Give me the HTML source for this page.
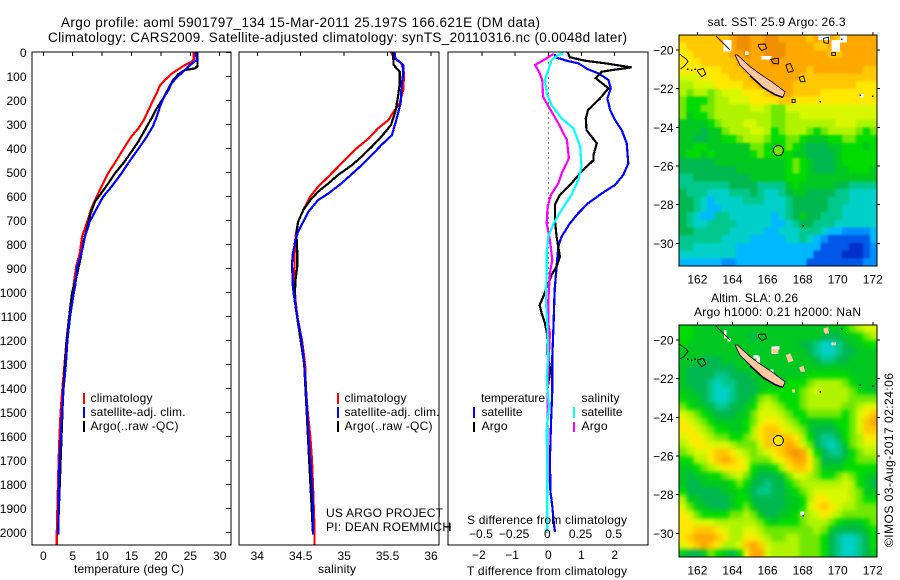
<!DOCTYPE html>
<html lang="en">
<head>
<meta charset="utf-8">
<title>Argo profile</title>
<style>
html,body{margin:0;padding:0;background:#fff;width:900px;height:580px;overflow:hidden}
svg{display:block}
text{font-family:"Liberation Sans",sans-serif;font-size:12px;fill:#000}
.t14{font-size:13.5px}
</style>
</head>
<body>
<svg id="chart" xmlns="http://www.w3.org/2000/svg" width="900" height="580" viewBox="0 0 900 580">
<defs>
<filter id="soft-sst" filterUnits="userSpaceOnUse" x="660" y="15" width="240" height="270" color-interpolation-filters="sRGB"><feGaussianBlur stdDeviation="1.1"/></filter>
<filter id="soft-sla" filterUnits="userSpaceOnUse" x="660" y="305" width="240" height="270" color-interpolation-filters="sRGB"><feGaussianBlur stdDeviation="2.2"/></filter>
<clipPath id="clip-sst"><rect x="679" y="35" width="198" height="231"/></clipPath>
<clipPath id="clip-sla"><rect x="679" y="325" width="198" height="232"/></clipPath>
</defs>
<rect x="0" y="0" width="900" height="580" fill="#fff"/>
<text class="t14" x="61" y="27" textLength="479" lengthAdjust="spacing">Argo profile: aoml 5901797_134 15-Mar-2011 25.197S 166.621E (DM data)</text>
<text class="t14" x="48" y="42" textLength="579" lengthAdjust="spacing">Climatology: CARS2009. Satellite-adjusted climatology: synTS_20110316.nc (0.0048d later)</text>
<g id="plots"></g>
<g id="maps"></g>
<g id="labels">
<text x="74" y="573" textLength="110" lengthAdjust="spacing">temperature (deg C)</text>
<text x="318" y="573" textLength="38" lengthAdjust="spacing">salinity</text>
<text x="467" y="575" textLength="160" lengthAdjust="spacing">T difference from climatology</text>
<text x="467" y="524" textLength="160" lengthAdjust="spacing">S difference from climatology</text>
<text x="326" y="517" textLength="117" lengthAdjust="spacing">US ARGO PROJECT</text>
<text x="326" y="531" textLength="125" lengthAdjust="spacing">PI: DEAN ROEMMICH</text>

<rect x="83" y="393" width="2" height="11" fill="#f00"/>
<rect x="83" y="407" width="2" height="11" fill="#00f"/>
<rect x="83" y="421" width="2" height="11" fill="#000"/>
<text x="90.5" y="402" textLength="62" lengthAdjust="spacing">climatology</text>
<text x="90.5" y="416" textLength="95" lengthAdjust="spacing">satellite-adj. clim.</text>
<text x="90.5" y="430" textLength="88" lengthAdjust="spacing">Argo(..raw -QC)</text>

<rect x="337" y="393" width="2" height="11" fill="#f00"/>
<rect x="337" y="407" width="2" height="11" fill="#00f"/>
<rect x="337" y="421" width="2" height="11" fill="#000"/>
<text x="344.5" y="402" textLength="62" lengthAdjust="spacing">climatology</text>
<text x="344.5" y="416" textLength="95" lengthAdjust="spacing">satellite-adj. clim.</text>
<text x="344.5" y="430" textLength="88" lengthAdjust="spacing">Argo(..raw -QC)</text>

<text x="481" y="402" textLength="64" lengthAdjust="spacing">temperature</text>
<text x="581.5" y="402" textLength="38" lengthAdjust="spacing">salinity</text>
<rect x="473" y="407" width="2" height="11" fill="#00f"/>
<rect x="473" y="422" width="2" height="10" fill="#000"/>
<rect x="573" y="407" width="2" height="11" fill="#0ff"/>
<rect x="573" y="422" width="2" height="10" fill="#f0f"/>
<text x="481.5" y="416" textLength="41" lengthAdjust="spacing">satellite</text>
<text x="481.5" y="430" textLength="26" lengthAdjust="spacing">Argo</text>
<text x="581.5" y="416" textLength="41" lengthAdjust="spacing">satellite</text>
<text x="581.5" y="430" textLength="26" lengthAdjust="spacing">Argo</text>

<path d="M445 527H451M450 523V531" stroke="#000" fill="none" shape-rendering="crispEdges"/>

<text x="707.5" y="26" textLength="138" lengthAdjust="spacing">sat. SST: 25.9 Argo: 26.3</text>
<text x="711" y="302" textLength="87" lengthAdjust="spacing">Altim. SLA: 0.26</text>
<text x="694" y="316" textLength="167" lengthAdjust="spacing">Argo h1000: 0.21 h2000: NaN</text>
<text transform="translate(893,547) rotate(-90)" x="0" y="0" textLength="174" lengthAdjust="spacing">©IMOS 03-Aug-2017 02:24:06</text>
</g>
</svg>
<script>
// ---------- profile data (depth in dbar, values in physical units) ----------
var redTD=[0,30,40,53,70,90,115,140,170,198,240,282,316,351,392,448,503,559,600,649,704,767,836,892,961,1000,1100,1200,1300,1400,1500,1600,1700,1800,1900,2000,2055];
var redT=[25.6,25.6,25.2,24.1,23.0,21.8,20.7,19.8,19.3,18.7,17.9,17.1,16.2,15.0,13.9,12.5,11.05,9.9,9.1,8.2,7.5,6.6,6.2,5.6,5.2,5.0,4.4,3.95,3.6,3.25,2.95,2.75,2.6,2.5,2.4,2.3,2.3];
var blueTD=[0,32,53,81,104,129,157,192,226,268,310,351,393,442,504,560,601,650,705,768,837,892,975,1000,1100,1200,1300,1400,1500,1600,1700,1800,1900,2010];
var blueT=[25.9,26.1,24.95,23.8,22.7,21.8,21.3,20.4,19.85,19.3,18.6,17.6,16.45,15.0,13.3,11.6,10.2,9.1,7.9,7.1,6.5,5.8,5.4,5.2,4.55,4.1,3.85,3.45,3.2,3.0,2.75,2.65,2.6,2.55];
var blackTD=[0,57,67,74,90,115,150,192,233,275,323,372,414,462,504,546,594,622,671,726,782,851,920,975,1000,1100,1200,1300,1400,2000];
var blackT=[26.25,26.25,25.8,24.1,23.0,22.1,21.3,20.4,19.3,18.4,17.3,16.15,15.0,13.6,12.2,11.05,9.65,8.8,8.05,7.5,6.9,6.4,5.8,5.2,4.9,4.4,4.0,3.7,3.4,2.5];

var redSD=[0,25,46,88,157,213,247,282,317,359,407,463,518,560,601,657,706,768,838,907,977,1032,1100,1200,1300,1400,1500,1600,1700,1800,1900,2000,2055];
var redS=[35.54,35.58,35.66,35.69,35.68,35.64,35.57,35.51,35.39,35.28,35.12,34.97,34.82,34.70,34.61,34.53,34.47,34.44,34.43,34.43,34.43,34.44,34.46,34.515,34.55,34.56,34.58,34.61,34.63,34.64,34.65,34.66,34.66];
var blueSD=[0,25,53,88,143,213,282,345,386,442,484,546,588,616,664,706,747,782,838,880,977,1032,1100,1200,1300,1400,1500,1600,1700,1800,1900,2010];
var blueS=[35.58,35.59,35.68,35.68,35.66,35.65,35.60,35.55,35.43,35.28,35.16,34.97,34.82,34.70,34.59,34.53,34.47,34.44,34.41,34.40,34.41,34.43,34.46,34.51,34.54,34.56,34.575,34.59,34.61,34.63,34.64,34.64];
var blackSD=[0,53,81,129,185,247,303,351,393,435,470,511,546,581,616,657,706,754,838,893,949,1032,1300,2000];
var blackS=[35.56,35.57,35.64,35.64,35.62,35.59,35.54,35.43,35.32,35.20,35.09,34.93,34.82,34.70,34.61,34.53,34.47,34.45,34.46,34.46,34.44,34.43,34.54,34.64];

var diffBlueD=[7,21,35,46,71,88,115,150,192,240,282,324,379,463,511,553,588,629,671,713,768,810,893,977,1032,1129,1268,1407,1546,1685,1824,1893,1963,1998];
var diffBlueT=[.20,.22,.55,.90,1.20,1.51,1.81,1.88,1.78,1.86,2.01,2.21,2.36,2.41,2.26,2.01,1.61,1.20,.90,.65,.40,.30,.25,.20,.18,.16,.12,.12,.08,.05,.06,.12,.17,.20];
var diffBlackD=[0,21,35,46,63,74,81,108,150,192,240,275,324,379,428,449,497,546,594,636,699,768,851,893,928,1018,1053,1088,1129,1180,1254,1324,1400,2000];
var diffBlackT=[.58,.65,1.10,1.71,2.51,1.91,1.61,1.43,1.81,1.56,1.20,1.13,1.15,1.46,1.36,1.36,1.0,.70,.35,.20,.20,.25,.35,.25,.10,-.15,-.26,-.2,-.1,-.03,-.02,.06,-.02,-.03];
var diffMagentaD=[7,29,53,81,115,185,233,296,365,442,504,546,594,643,713,782,865,921,1032,1129,1171,1254,1400,2000];
var diffMagentaS=[.04,-.025,-.10,-.07,-.045,-.04,.01,.075,.14,.155,.10,.075,.02,-.005,-.012,.012,.03,.012,0,0,.012,.005,-.005,-.005];
var diffCyanD=[4,11,32,74,115,171,220,275,317,393,477,532,594,657,713,768,838,921,1032,1129,1268,1358,1476,1573,1685,1824,1998];
var diffCyanS=[.113,.075,.025,0,-.025,-.012,.025,.10,.19,.24,.25,.225,.175,.10,.04,0,-.012,-.012,-.018,-.008,0,-.012,.005,-.012,-.01,-.008,-.008];

// ---------- tick labels ----------
var depthTicks=[0,100,200,300,400,500,600,700,800,900,1000,1100,1200,1300,1400,1500,1600,1700,1800,1900,2000];
var tempTicks=[0,5,10,15,20,25,30];
var salTicks=[34,34.5,35,35.5,36];
var diffTTicks=[-2,-1,0,1,2];
var diffSTicks=[-0.5,-0.25,0,0.25,0.5];
var lonTicks=[162,164,166,168,170,172];
var latTicks=[-20,-22,-24,-26,-28,-30];

// ---------- map data: colour level per 0.4 degree cell, north to south ----------
var sstGrid=[
[13,13,13,13,13,13,13,14,15,15,14,14,15,15,14,14,14,14,13,14,13,14,13,14,14,14,14,14],
[12,13,13,13,13,13,13,14,15,15,14,14,15,15,15,14,14,14,14,13,13,14,14,14,14,14,14,14],
[12,12,13,13,13,13,13,14,14,15,14,14,15,15,15,14,14,14,14,14,14,13,13,14,14,14,14,14],
[12,12,12,13,13,13,13,13,14,14,14,14,14,15,14,14,14,14,14,14,14,14,14,14,14,14,14,14],
[12,12,12,12,12,12,13,13,13,14,14,14,14,14,14,14,14,14,13,14,14,14,14,14,14,14,13,13],
[11,11,11,12,12,12,12,13,13,13,14,14,14,14,14,14,14,13,13,13,13,13,13,13,13,13,13,13],
[10,10,11,11,11,12,12,12,12,13,13,14,14,14,14,14,13,13,13,13,13,13,13,13,13,12,12,12],
[10,9,10,10,9,10,11,11,11,12,12,12,13,14,14,14,13,13,13,13,12,12,12,12,12,12,12,12],
[9,8,8,8,9,10,10,11,11,11,12,12,12,12,13,13,12,12,12,12,12,12,12,12,12,12,12,12],
[9,8,8,9,9,10,10,10,10,10,11,11,10,9,9,11,11,11,11,11,11,11,11,11,11,11,11,11],
[9,7,8,8,9,10,10,10,10,10,10,10,10,9,9,10,10,11,11,11,11,11,11,11,11,11,11,11],
[7,7,7,7,8,9,10,10,10,11,11,10,10,9,9,10,10,10,10,10,10,10,11,11,11,10,10,10],
[7,7,7,6,7,7,9,10,10,10,11,11,10,8,9,10,10,10,9,8,9,10,10,10,10,9,8,9],
[7,7,6,6,7,7,8,8,9,10,10,10,9,8,8,9,9,8,7,7,7,8,8,9,9,8,8,8],
[7,7,8,8,7,7,7,7,7,7,9,9,8,7,8,9,8,7,6,6,6,7,7,8,8,8,7,8],
[7,8,8,7,8,7,7,7,7,7,8,9,8,8,8,8,7,7,6,6,6,6,7,8,8,8,8,8],
[6,6,6,6,6,7,7,7,7,7,7,7,7,7,7,8,9,8,7,6,6,6,7,8,8,8,8,8],
[6,6,6,6,6,6,6,6,7,7,7,7,7,7,7,8,9,8,7,6,6,6,7,7,8,8,8,7],
[5,5,6,6,6,6,6,6,6,6,7,7,7,7,7,8,8,8,7,7,7,7,7,7,7,7,7,7],
[5,5,5,5,5,5,5,6,6,6,6,5,5,5,5,7,8,7,7,7,7,7,6,6,5,5,5,5],
[6,5,5,5,4,4,4,5,5,5,6,5,4,4,5,6,7,7,6,6,6,6,5,5,4,4,4,4],
[6,6,5,4,3,4,4,4,4,5,5,5,4,4,4,5,6,6,6,6,6,5,5,5,4,4,4,4],
[6,6,5,4,3,3,4,4,4,4,4,4,4,4,4,5,6,6,6,6,6,5,5,4,4,4,4,4],
[6,5,4,3,3,5,5,4,4,4,4,4,4,3,4,5,6,7,6,6,5,5,5,4,4,4,4,4],
[6,5,4,4,5,5,5,5,4,4,4,4,4,3,3,4,5,6,6,5,5,5,4,4,4,4,4,4],
[6,6,5,5,5,5,5,4,4,4,4,4,3,3,4,4,4,5,5,5,4,3,3,2,2,2,2,3],
[5,5,5,5,5,5,4,4,4,4,3,3,3,3,3,4,4,5,4,3,2,1,1,1,1,1,1,3],
[5,5,4,4,4,4,4,4,3,3,3,3,3,3,3,3,3,3,3,3,1,1,1,1,0,0,1,2],
[4,4,4,4,4,4,4,4,3,3,3,3,3,3,3,3,3,3,3,1,1,1,1,0,0,0,1,2],
[3,3,3,3,3,3,2,2,3,3,3,3,3,3,3,3,3,3,1,1,1,1,1,1,1,1,2,2]
];
var slaGrid=[
[8,8,7,7,7,7,7,7,7,7,7,7,7,7,7,7,7,7,7,7,7,7,7,8,9,10,11,11],
[8,8,7,7,7,7,7,7,7,7,6,7,7,7,7,7,7,7,7,7,6,6,6,7,7,8,9,10],
[8,7,7,7,7,7,7,7,7,7,7,7,7,7,7,7,7,6,6,5,4,4,5,6,7,7,8,8],
[7,7,7,7,7,7,7,7,7,7,7,7,7,7,7,7,7,7,6,5,4,4,5,6,6,7,7,7],
[7,7,7,6,6,6,7,7,7,7,7,7,7,7,7,7,7,7,7,6,5,5,6,6,7,7,7,7],
[7,6,6,6,6,6,6,6,7,7,7,7,7,7,7,7,7,7,7,7,7,7,7,7,7,7,7,7],
[7,6,6,6,6,5,5,6,6,6,7,7,7,7,7,7,7,7,8,8,8,8,8,8,7,7,7,7],
[7,6,6,6,5,4,5,5,6,6,6,7,7,7,7,8,8,8,9,10,10,10,10,9,8,7,7,7],
[7,7,6,6,5,4,4,5,6,6,6,7,8,8,8,8,8,9,10,11,10,10,10,10,9,8,7,7],
[8,7,7,6,5,4,4,5,6,6,7,9,10,9,8,8,8,9,10,10,10,10,10,10,9,9,9,9],
[9,8,7,7,6,5,5,6,6,7,8,10,11,10,9,8,8,9,10,10,10,10,10,9,9,10,11,11],
[11,10,9,8,7,6,6,6,7,7,9,11,11,11,10,9,8,8,9,9,9,9,9,8,9,11,12,13],
[12,11,10,9,8,7,7,7,7,8,9,11,12,12,11,10,9,8,7,7,7,7,8,8,9,11,13,14],
[12,12,11,10,9,8,8,7,7,8,10,12,13,13,12,11,10,9,7,6,6,6,7,8,9,11,13,13],
[11,12,12,11,10,9,9,8,8,9,10,12,13,13,13,13,12,10,8,6,5,5,6,8,9,10,12,12],
[10,11,12,12,11,11,11,10,9,9,9,11,13,13,13,14,13,11,9,6,5,4,5,7,9,10,11,11],
[9,10,11,11,12,13,13,12,11,10,9,10,11,12,13,14,15,14,11,8,6,5,5,6,8,9,10,10],
[8,8,10,10,12,13,14,13,12,11,9,9,9,11,12,13,14,14,12,9,6,6,6,7,8,9,9,9],
[7,7,8,9,10,11,12,12,12,11,8,7,7,8,10,12,13,13,12,9,7,7,7,8,8,8,8,8],
[7,6,7,7,8,8,9,10,11,9,7,6,6,6,7,9,11,11,10,9,8,8,9,10,9,8,7,7],
[7,6,6,7,7,7,7,8,9,8,6,6,5,6,6,8,9,10,10,10,10,10,10,11,10,8,7,6],
[8,6,6,6,6,6,7,7,8,7,6,5,5,6,6,7,8,9,10,11,11,11,11,11,10,9,7,7],
[10,7,7,6,6,6,6,7,8,8,6,6,6,6,6,7,7,8,10,12,12,11,11,11,10,9,8,8],
[11,9,7,7,6,6,6,7,8,9,7,6,6,6,6,7,7,8,11,12,13,12,11,10,10,9,9,9],
[12,11,9,8,8,8,8,9,9,10,9,7,6,6,7,7,8,9,10,11,12,11,10,9,9,9,9,9],
[12,12,11,11,11,10,10,10,10,10,10,9,8,7,8,8,8,9,10,10,10,9,8,7,7,7,8,9],
[12,12,13,13,13,12,11,10,10,11,11,10,9,9,9,9,9,9,9,10,9,7,6,6,6,6,7,8],
[12,13,14,14,14,13,12,10,10,12,12,11,10,9,9,10,10,9,9,9,8,6,5,4,4,5,6,8],
[11,12,13,14,13,12,10,10,11,13,14,13,11,10,10,10,10,9,9,9,8,6,5,4,4,5,6,8],
[7,6,6,7,9,8,7,6,8,12,14,14,11,10,10,10,10,9,9,9,8,6,5,4,4,5,6,7]
];
var levelColors=["#0030c8","#0058e8","#0090ff","#00b8ff","#00d0c8","#00c88c","#00b850","#00c820","#00dc00","#70e800","#b0f400","#d8f800","#ffe800","#ffc800","#ffa800","#f09000"];

// missing-data patches: [west lon, north lat, width deg, height deg]
var sstGaps=[[163.48,-19.48,.47,.6],[164.72,-20.09,.2,.17],[165.67,-20.31,.57,.17],[168.9,-19.22,.67,.26],[169.66,-19.48,.47,.6],[170.14,-19.22,.4,.4],[171.28,-22.28,.2,.17]];
var slaGaps=[[163.52,-19.48,.15,.43],[163.71,-19.91,.19,.17],[165.19,-20.78,.29,.17],[165.38,-20.86,.19,.43],[166.24,-20.34,.29,.38],[166.52,-20.31,.15,.17],[166.14,-21.52,.19,.17],[167.89,-28.88,.19,.2],[169.28,-19.57,.23,.09],[169.66,-20.14,.23,.1]];

// coast geometry in [lon, lat]
var mainIslandCoast=[[164.15,-20.26],[164.28,-20.26],[165.0,-20.86],[165.57,-21.24],[166.24,-21.64],[167.0,-22.16],[166.87,-22.45],[166.43,-22.29],[165.76,-21.93],[165.0,-21.29],[164.43,-20.78]];
var southwestCoast=[[165.0,-21.33],[165.76,-21.95],[166.43,-22.31],[166.87,-22.45]];
var outerCoasts=[
[[161,-20.22],[161.38,-20.48],[161.46,-20.6],[161.23,-20.86],[161.04,-20.98]],
[[163.06,-19.28],[163.39,-19.57],[163.86,-20.0]]
];
var islandLoops=[
[[162.02,-21.03],[162.34,-20.95],[162.48,-21.24],[162.25,-21.38],[162.02,-21.12]],
[[165.48,-19.71],[165.86,-19.69],[165.95,-19.91],[165.67,-20.03],[165.48,-19.83]]
];
var filledIslands=[
[[166.18,-20.48],[166.62,-20.43],[166.62,-20.72],[166.33,-20.69]],
[[167.04,-20.78],[167.29,-20.69],[167.48,-21.07],[167.19,-21.17]],
[[167.8,-21.41],[168.05,-21.34],[168.14,-21.64],[167.89,-21.64]],
[[169.19,-19.4],[169.47,-19.34],[169.47,-19.66],[169.22,-19.62]],
[[169.66,-20.14],[169.87,-20.14],[169.87,-20.28],[169.66,-20.28]],
[[167.4,-22.55],[167.57,-22.55],[167.57,-22.72],[167.4,-22.72]]
];
var coastDots=[[161.4,-20.95],[161.65,-21.0],[161.85,-20.95],[168.95,-22.65],[171.97,-22.35],[171.25,-22.3],[168.0,-29.05],[170.2,-19.4]];
var argoLon=166.62;
var argoLat=-25.2;

// ---------- drawing ----------
var NS='http://www.w3.org/2000/svg';
function mk(parent,tag,attrs){
  var el=document.createElementNS(NS,tag);
  for(var k in attrs){el.setAttribute(k,attrs[k]);}
  parent.appendChild(el);
  return el;
}
var plots=document.getElementById('plots');
var maps=document.getElementById('maps');

function depthY(d){return 52.3+d*0.24;}
function tempX(t){return 43.3+t*5.88;}
function salX(s){return 257.3+(s-34)*86.85;}
function diffTX(t){return 548.3+t*33.2;}
function diffSX(s){return 548.3+s*132.8;}

function polyline(parent,depths,vals,xf,color,name){
  var pts=[];
  for(var i=0;i<vals.length;i++){pts.push(xf(vals[i]).toFixed(1)+','+depthY(depths[i]).toFixed(1));}
  var el=mk(parent,'polyline',{points:pts.join(' '),fill:'none',stroke:color,'stroke-width':2.2,'shape-rendering':'crispEdges'});
  
  
}
function tickText(parent,x,y,str,anchor,name){
  var el=mk(parent,'text',{x:x,y:y,'text-anchor':anchor});
  el.textContent=str;
  
  
}
function tickMark(parent,x1,y1,x2,y2,name){
  var el=mk(parent,'line',{x1:x1,y1:y1,x2:x2,y2:y2,stroke:'#000','stroke-width':1,'shape-rendering':'crispEdges'});
  
  
}
function frame(parent,x,y,w,h,name){
  var el=mk(parent,'rect',{x:x,y:y,width:w,height:h,fill:'none',stroke:'#000','stroke-width':1,'shape-rendering':'crispEdges'});
  
  
}
function fmt(v){return (v<0?'\u2212':'')+Math.abs(v);}

// temperature panel
polyline(plots,redTD,redT,tempX,'#f00','temperature-climatology-line');
polyline(plots,blackTD,blackT,tempX,'#000','temperature-argo-line');
polyline(plots,blueTD,blueT,tempX,'#00f','temperature-satellite-line');
frame(plots,32,52,199,493,'temperature-panel-frame');
depthTicks.forEach(function(d){
  tickText(plots,26.5,depthY(d)+4.5,String(d),'end','depth-tick-label');
  tickMark(plots,226,depthY(d),231,depthY(d),'depth-tick');
});
tempTicks.forEach(function(t){
  tickText(plots,tempX(t),560,String(t),'middle','temperature-tick-label');
  tickMark(plots,tempX(t),52,tempX(t),56,'temperature-tick');
});

// salinity panel
polyline(plots,redSD,redS,salX,'#f00','salinity-climatology-line');
polyline(plots,blackSD,blackS,salX,'#000','salinity-argo-line');
polyline(plots,blueSD,blueS,salX,'#00f','salinity-satellite-line');
frame(plots,239,52,200,493,'salinity-panel-frame');
salTicks.forEach(function(s){
  tickText(plots,salX(s),560,String(s),'middle','salinity-tick-label');
  tickMark(plots,salX(s),52,salX(s),56,'salinity-tick');
});

// difference panel
var zero=mk(plots,'line',{x1:diffTX(0),y1:depthY(0),x2:diffTX(0),y2:depthY(1300),stroke:'#000','stroke-width':1,'stroke-dasharray':'1 4','shape-rendering':'crispEdges'});


polyline(plots,diffBlueD,diffBlueT,diffTX,'#00f','t-difference-satellite-line');
polyline(plots,diffBlackD,diffBlackT,diffTX,'#000','t-difference-argo-line');
polyline(plots,diffMagentaD,diffMagentaS,diffSX,'#f0f','s-difference-argo-line');
polyline(plots,diffCyanD,diffCyanS,diffSX,'#0ff','s-difference-satellite-line');
frame(plots,448,52,200,493,'difference-panel-frame');
diffTTicks.forEach(function(t){
  tickText(plots,diffTX(t)-(t<0?3:0),559,fmt(t),'middle','t-difference-tick-label');
  tickMark(plots,diffTX(t),52,diffTX(t),56,'t-difference-tick');
});
diffSTicks.forEach(function(s){
  tickText(plots,diffSX(s)-1,538,fmt(s),'middle','s-difference-tick-label');
});

// maps
function drawMap(grid,gaps,top,height,name,dotColor,fillIslands,softId,clipId){
  var left=679.3,width=198;
  function lonX(lon){return left+(lon-160.97)*17.54;}
  function latY(lat){return top+15+(-20-lat)*19.33;}
  var g=mk(maps,'g',{});
  
  
  var clip=mk(g,'g',{'clip-path':'url(#'+clipId+')'});
  
  
  var soft=mk(clip,'g',{filter:'url(#'+softId+')'});
  
  
  var rows=grid.length,cw=width/28,rh=height/rows,bleed=12;
  for(var r=0;r<rows;r++){
    for(var c=0;c<grid[r].length;c++){
      var x0=left+c*cw-(c===0?bleed:0);
      var x1=left+(c+1)*cw+0.6+(c===grid[r].length-1?bleed:0);
      var y0=top+r*rh-(r===0?bleed:0);
      var y1=top+(r+1)*rh+0.6+(r===rows-1?bleed:0);
      var cell=mk(soft,'rect',{x:x0.toFixed(1),y:y0.toFixed(1),width:(x1-x0).toFixed(1),height:(y1-y0).toFixed(1),fill:levelColors[grid[r][c]],'shape-rendering':'crispEdges'});
      
      
    }
  }
  gaps.forEach(function(p){
    var gp=mk(clip,'rect',{x:lonX(p[0]),y:latY(p[1]),width:p[2]*17.54,height:p[3]*19.33,fill:'#fff','shape-rendering':'crispEdges'});
    
    
  });
  function pathOf(pts,close){
    return pts.map(function(p,i){return (i?'L':'M')+lonX(p[0]).toFixed(1)+' '+latY(p[1]).toFixed(1);}).join('')+(close?'Z':'');
  }
  var land=mk(clip,'path',{d:pathOf(mainIslandCoast,true),fill:'#ffc8a0',stroke:'#000','stroke-width':0.8});
  
  
  var sw=mk(clip,'path',{d:pathOf(southwestCoast,false),fill:'none',stroke:'#000','stroke-width':1.6});
  
  
  outerCoasts.forEach(function(pts){
    var o=mk(clip,'path',{d:pathOf(pts,false),fill:'none',stroke:'#000','stroke-width':0.9});
    
    
  });
  islandLoops.forEach(function(pts){
    var o=mk(clip,'path',{d:pathOf(pts,true),fill:'none',stroke:'#000','stroke-width':0.9});
    
    
  });
  filledIslands.forEach(function(pts){
    var o=mk(clip,'path',{d:pathOf(pts,true),fill:fillIslands?'#ffc8a0':'none',stroke:fillIslands?'none':'#000','stroke-width':0.9});
    
    
  });
  coastDots.forEach(function(p){
    var o=mk(clip,'rect',{x:lonX(p[0]),y:latY(p[1]),width:1.5,height:1.5,fill:'#000','shape-rendering':'crispEdges'});
    
    
  });
  var dot=mk(g,'circle',{cx:lonX(argoLon),cy:latY(argoLat),r:5,fill:dotColor,stroke:'#000','stroke-width':1});
  
  
  frame(g,679,top,198,height,name+'-frame');
  lonTicks.forEach(function(lon){
    tickMark(g,lonX(lon),top-3,lonX(lon),top,'longitude-tick');
    tickText(g,lonX(lon),top+height+17.5,String(lon),'middle','longitude-tick-label');
  });
  latTicks.forEach(function(lat){
    tickMark(g,676,latY(lat),679,latY(lat),'latitude-tick');
    tickMark(g,877,latY(lat),880,latY(lat),'latitude-tick');
    tickText(g,673.5,latY(lat)+4.5,fmt(lat),'end','latitude-tick-label');
  });
}
drawMap(sstGrid,sstGaps,35,231,'sst-map','#70e800',false,'soft-sst','clip-sst');
drawMap(slaGrid,slaGaps,325,232,'sla-map','#ffe800',true,'soft-sla','clip-sla');
</script>
</body>
</html>
